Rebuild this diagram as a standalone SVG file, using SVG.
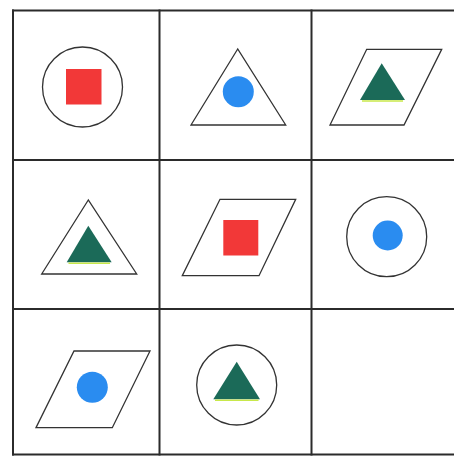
<svg xmlns="http://www.w3.org/2000/svg" width="454" height="457" viewBox="0 0 454 457">
<style>
.grid{stroke:#2b2b2b;stroke-width:2;fill:none}
.outline{fill:#fff;stroke:#333;stroke-width:1.3}
.red{fill:#f23838}
.blue{fill:#2a8cf0}
.green{fill:#1b6a58}
.yel{stroke:#c8e84a;stroke-width:1.5}
</style>
<rect width="454" height="457" fill="#fff"/>
<g id="grid">
<line class="grid" x1="12" y1="10.5" x2="454" y2="10.5"/>
<line class="grid" x1="13" y1="160" x2="454" y2="160"/>
<line class="grid" x1="13" y1="309" x2="454" y2="309"/>
<line class="grid" x1="12" y1="454.5" x2="454" y2="454.5"/>
<line class="grid" x1="13" y1="9.5" x2="13" y2="455.5"/>
<line class="grid" x1="159.5" y1="9.5" x2="159.5" y2="455.5"/>
<line class="grid" x1="311.5" y1="9.5" x2="311.5" y2="455.5"/>
</g>
<g id="cell1">
<circle class="outline" cx="82.5" cy="87" r="40"/>
<rect class="red" x="66" y="69" width="35.5" height="35.5"/>
</g>
<g id="cell2">
<polygon class="outline" points="237.7,49 191,125 285.7,125"/>
<circle class="blue" cx="238.3" cy="91.7" r="15.5"/>
</g>
<g id="cell3">
<polygon class="outline" points="366.7,49.3 441.7,49.3 404,125 330,125"/>
<polygon class="green" points="381.7,63.3 360,100 405,100"/>
<line class="yel" x1="362" y1="101" x2="403" y2="101"/>
</g>
<g id="cell4">
<polygon class="outline" points="88.3,200 41.7,274 136.7,274"/>
<polygon class="green" points="88.3,225.7 66.7,262.3 111.7,262.3"/>
<line class="yel" x1="68.5" y1="263.3" x2="110" y2="263.3"/>
</g>
<g id="cell5">
<polygon class="outline" points="220,199.3 295.7,199.3 259,275.7 182.3,275.7"/>
<rect class="red" x="223.3" y="220" width="35" height="35.5"/>
</g>
<g id="cell6">
<circle class="outline" cx="386.7" cy="236.7" r="40"/>
<circle class="blue" cx="387.7" cy="235.5" r="15"/>
</g>
<g id="cell7">
<polygon class="outline" points="74,351 150,351 112.3,427.7 36,427.7"/>
<circle class="blue" cx="92.3" cy="387.3" r="15.5"/>
</g>
<g id="cell8">
<circle class="outline" cx="236.7" cy="385" r="40"/>
<polygon class="green" points="236.7,361.7 213.3,399.3 260,399.3"/>
<line class="yel" x1="215" y1="400.3" x2="258.5" y2="400.3"/>
</g>
<g id="cell9"></g>
</svg>
